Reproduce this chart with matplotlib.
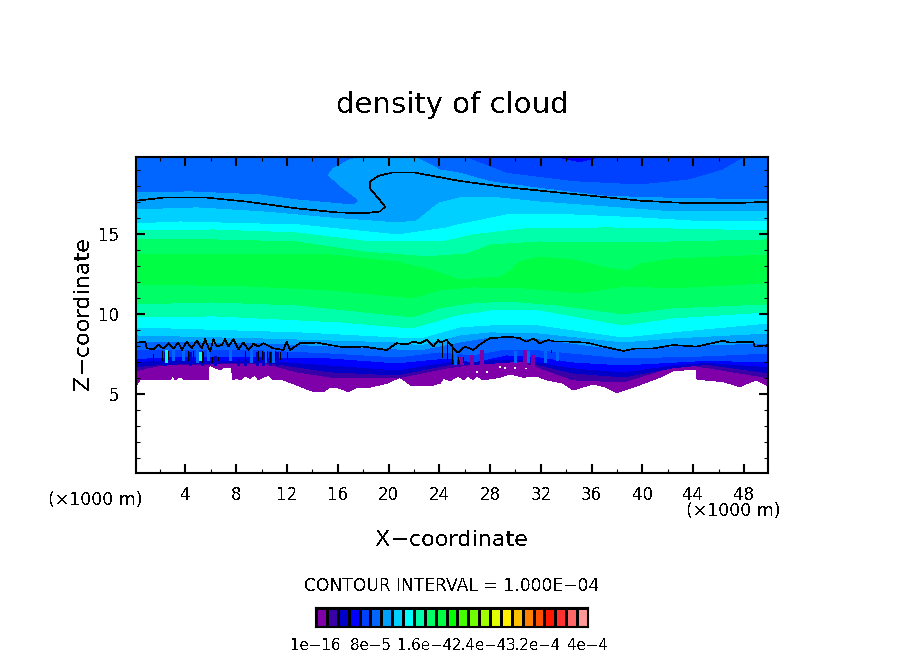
import matplotlib
matplotlib.use("Agg")
import matplotlib.pyplot as plt
from matplotlib.ticker import MultipleLocator

plt.rcParams['font.family'] = ['DejaVu Sans']
plt.rcParams['text.antialiased'] = False

W, H = 904, 654
XMIN, XMAX, ZMIN, ZMAX = 0.1, 49.9, 0.06, 19.81

TITLE = "density of cloud"
XLABEL = "X\u2212coordinate"
YLABEL = "Z\u2212coordinate"
INTERVAL = "CONTOUR INTERVAL = 1.000E\u221204"
UNIT = "(\u00d71000 m)"
XTICKS = list(range(4, 49, 4))
ZTICKS = [5, 10, 15]
CBAR_LABELS = ["1e\u221216", "8e\u22125", "1.6e\u22124", "2.4e\u22124", "3.2e\u22124", "4e\u22124"]

COLORS = ["#7f00a8", "#3a00a8", "#0000c8", "#0000ff", "#0040ff", "#0066ff", "#00a0ff", "#00d0ff",
          "#00ffff", "#00ffaa", "#00ff66", "#00ff44", "#00ff00", "#44ff00", "#70ff00", "#a0ff00",
          "#e0ff00", "#fff000", "#ffc000", "#ff8000", "#ff5000", "#ff1800", "#ff3030", "#ff6868", "#ff9898"]

# lower edge of each level (x in km, z in km)
L0_X = [0, 0.16, 0.42, 2.79, 3.0, 3.18, 3.57, 3.97, 5.81, 5.86, 6.72, 6.99, 7.64, 7.7, 8.04, 8.3, 8.69, 9.09, 9.48, 9.74,
        10.14, 10.53, 10.92, 11.71, 12.76, 14.07, 14.86, 15.39, 15.91, 16.83, 17.49, 18.54, 19.85, 20.9, 21.82, 23.26,
        24.05, 24.31, 24.84, 25.49, 25.89, 26.28, 26.67, 26.94, 27.46, 28.77, 29.56, 30.61, 31.66, 32.45, 33.76, 34.55,
        36.12, 37.17, 37.96, 39.27, 40.85, 41.5, 42.42, 44.26, 44.31, 46.36, 47.67, 48.98, 50]
L0_Z = [5.56, 5.56, 5.88, 5.88, 6.19, 5.88, 6.08, 5.88, 5.88, 6.81, 6.5, 6.65, 6.65, 5.88, 5.98, 5.88, 6.13, 5.98, 6.19, 5.88,
        6.04, 6.19, 5.88, 5.88, 5.56, 5.15, 5.15, 5.42, 5.42, 5.15, 5.42, 5.42, 5.67, 6.04, 5.5, 5.5,
        5.67, 5.98, 5.83, 6.13, 5.88, 6.13, 5.88, 6.13, 5.88, 6.04, 6.25, 6.04, 6.13, 5.88, 5.67, 5.25,
        5.63, 5.42, 5.08, 5.42, 5.88, 6.08, 6.46, 6.54, 5.92, 5.77, 5.46, 5.88, 5.46]
L1_X = [0, 1.0, 2.26, 10.14, 12.76, 15.39, 20.64, 24.6, 28, 30.6, 34.55, 38.49, 41.1, 42.4, 44.26, 50]
L1_Z = [6.4, 6.63, 6.81, 6.94, 6.38, 6.06, 6.0, 6.63, 7.0, 7.0, 5.88, 5.75, 6.38, 6.75, 6.75, 6.0]
L2_X = [0, 2.26, 10.14, 15.39, 20.64, 24.6, 26.67, 30.6, 34.55, 38.49, 42.4, 45.05, 50]
L2_Z = [6.7, 6.85, 7.0, 6.38, 6.19, 6.81, 6.85, 7.05, 6.31, 6.06, 6.63, 6.85, 6.31]
L3_X = [0, 2.26, 10.14, 15.39, 20.64, 24.6, 28, 30.6, 34.55, 38.49, 42.4, 45.05, 50]
L3_Z = [7.0, 7.13, 7.1, 6.81, 6.5, 7.0, 7.13, 7.17, 6.63, 6.38, 6.81, 6.98, 6.69]
L4_X = [0, 2.26, 10.14, 15.39, 20.64, 24.6, 26.67, 29.3, 31.92, 34.55, 38.49, 45.05, 50]
L4_Z = [7.2, 7.31, 7.31, 7.25, 6.94, 7.25, 7.0, 7.44, 7.31, 7.0, 6.81, 7.1, 7.0]
L5_X = [0, 10.1, 15.4, 20.7, 24, 26.6, 28.8, 31.9, 38.5, 45.1, 50]
L5_Z = [7.75, 7.75, 7.56, 7.31, 7.63, 7.44, 7.75, 7.75, 7.25, 7.38, 7.56]
L6_X = [0, 10, 15.4, 20.7, 22.5, 25.6, 28, 31.9, 38.5, 42.4, 50]
L6_Z = [8.31, 8.19, 8, 7.81, 7.75, 8.25, 8.56, 8.44, 7.75, 8, 8.19]
L7_X = [0, 10, 20.7, 22.5, 25.6, 28, 31.9, 38.5, 42.4, 50]
L7_Z = [8.69, 8.5, 8.25, 8.06, 8.69, 8.88, 8.81, 8.25, 8.5, 8.81]
L8_X = [0, 13, 20.7, 22.5, 25.6, 28, 31.9, 38.5, 42.4, 50]
L8_Z = [9.19, 8.88, 8.56, 8.5, 9.19, 9.31, 9.31, 8.56, 8.88, 9.44]
L9_X = [0, 6.2, 12.8, 16.2, 20.7, 21.9, 25.4, 28, 31.9, 38.5, 42.4, 50]
L9_Z = [9.81, 9.88, 9.63, 9.5, 9.19, 9.13, 9.94, 10.25, 10.25, 9.31, 9.75, 10.13]
L10_X = [0, 6.2, 12.8, 18, 21.9, 24, 25.4, 26.6, 29.3, 33.3, 38.5, 42.4, 50]
L10_Z = [10.63, 10.75, 10.56, 10.13, 9.81, 10.38, 10.56, 10.69, 10.81, 10.56, 10.0, 10.38, 10.63]
L11_X = [0, 8.9, 15.4, 21.9, 24, 26.6, 30.6, 35.1, 38.8, 42.4, 50]
L11_Z = [11.88, 11.75, 11.5, 11, 11.5, 11.69, 11.63, 11.31, 11.75, 11.63, 11.94]

# upper edge of each level
U0_X = [0, 50]
U0_Z = [ZMAX, ZMAX]
U4_X = [0, 32.9, 35.1, 36.9, 50]
U4_Z = [ZMAX, ZMAX, 19.44, ZMAX, ZMAX]
U5_X = [0, 26.02, 29.3, 34.55, 39.8, 43.73, 46.36, 48.07, 50]
U5_Z = [ZMAX, 19.79, 18.79, 18.27, 18.06, 18.38, 19.0, 19.79, ZMAX]
U6_X = [0, 4.36, 9.87, 12.76, 17.22, 17.67, 17.49, 16.44, 15.25, 15.65, 16.96, 17.75, 22.08, 24.05, 25.62, 28, 31.92, 37.17, 42.42, 50]
U6_Z = [17.56, 17.63, 17.44, 17.13, 16.81, 17.02, 17.23, 17.85, 18.69, 19.1, 19.63, ZMAX, ZMAX, 19.0, 18.8, 18.27, 17.85, 17.35, 17.23, 17.13]
U7_X = [0, 4.9, 10.1, 15.4, 20.7, 22.2, 23.3, 24, 25.6, 28, 31.9, 37.2, 42.4, 50]
U7_Z = [16.5, 16.63, 16.38, 16, 15.69, 15.81, 16.5, 16.94, 17.25, 17.31, 17, 16.69, 16.38, 16.38]
U8_X = [0, 3.6, 13, 20.7, 24.6, 25.4, 26.6, 29.3, 34.5, 39.9, 45.1, 50]
U8_Z = [15.63, 15.75, 15.56, 14.94, 15.38, 15.56, 15.75, 16.19, 16.19, 16, 15.75, 15.75]
U9_X = [0, 6.2, 12.8, 18, 21.9, 24, 25.4, 26.6, 30.6, 37.2, 42.4, 50]
U9_Z = [15.19, 15.25, 15.06, 14.56, 14.5, 14.5, 14.69, 14.94, 15.31, 15.38, 15.31, 15.19]
U10_X = [0, 6.2, 12.8, 18, 23.3, 24, 26.2, 28, 31.9, 37.2, 42.4, 50]
U10_Z = [14.63, 14.63, 14.5, 13.88, 13.56, 13.63, 13.75, 14.31, 14.5, 14.44, 14.5, 14.63]
U11_X = [0, 10.1, 15.4, 20.7, 23.3, 25.6, 28.8, 29.7, 30.3, 31.9, 34.5, 37.2, 38.8, 39.9, 42.4, 50]
U11_Z = [13.69, 13.69, 13.69, 13.25, 12.75, 12.13, 12.31, 12.75, 13.25, 13.56, 13.38, 12.88, 12.69, 13.13, 13.44, 13.69]

# the 1.000E-04 contour
CONTOUR_LOW_X = [0, 0.16, 0.82, 0.95, 1.47, 1.87, 2.26, 2.66, 3.05, 3.44, 3.71, 4.1, 4.49, 4.89, 5.28, 5.54, 5.94, 6.2, 6.46, 6.86,
                 7.12, 7.38, 7.77, 8.17, 8.56, 8.96, 9.35, 9.74, 10.14, 10.92, 11.71, 11.97, 12.24, 13.02, 14.34, 15.39, 16.44,
                 18.01, 19.85, 20.64, 21.42, 21.95, 22.47, 23.0, 23.52, 23.92, 24.05, 24.57, 25.23, 25.49, 26.02, 26.67, 27.33,
                 27.99, 29.56, 30.35, 30.87, 31.4, 31.92, 32.58, 33.1, 34.15, 35.6, 36.91, 38.49, 39.54, 40.85, 42.42, 44.26,
                 46.36, 46.88, 48.72, 48.85, 50]
CONTOUR_LOW_Z = [8.21, 8.21, 8.27, 7.85, 7.79, 8.06, 7.85, 8.17, 7.85, 8.21, 7.75, 8.27, 7.85, 8.33, 7.85, 8.42, 7.65, 8.42, 7.96, 8.06,
                 8.42, 7.96, 8.42, 7.79, 8.21, 7.75, 8.13, 7.96, 8.17, 7.85, 7.75, 8.27, 7.75, 8.17, 8.21, 8.06, 7.92,
                 7.96, 7.75, 8.17, 8.1, 8.27, 8.17, 8.38, 7.96, 8.38, 8.21, 8.38, 7.75, 7.58, 7.96, 7.75, 8.17,
                 8.48, 8.58, 8.48, 8.27, 8.48, 8.17, 8.38, 8.27, 8.27, 8.21, 7.96, 7.69, 7.85, 7.85, 8.06, 7.96,
                 8.33, 8.21, 8.27, 7.96, 8.06]
CONTOUR_UP_X = [0, 0.16, 2.26, 5.67, 8.82, 12.76, 15.91, 18.01, 19.32, 19.72, 19.19, 18.54, 18.54, 19.19, 20.37, 21.95, 25.62,
                29.3, 34.55, 39.8, 43.73, 47.15, 50]
CONTOUR_UP_Z = [17.08, 17.08, 17.27, 17.27, 17.02, 16.6, 16.35, 16.29, 16.4, 16.71, 17.23, 17.85, 18.27, 18.63, 18.85, 18.85, 18.31,
                17.92, 17.5, 17.08, 16.92, 16.92, 17.02]

# narrow structures in the unstable layer
SPIKE_LIGHT_X = [3.05, 3.84, 4.89, 5.8, 7.5, 9.2, 10.27, 10.92, 25.2, 30.0, 31.0, 32.3, 33.3]
SPIKE_LIGHT_TOP = [7.8, 7.8, 7.8, 7.8, 7.8, 7.8, 7.7, 7.7, 7.6, 7.7, 7.7, 7.7, 7.7]
SPIKE_LIGHT_BOT = [7.1, 7.1, 7.0, 7.1, 7.1, 7.0, 7.0, 7.0, 6.9, 7.0, 7.0, 7.0, 7.1]
SPIKE_PURPLE_X = [25.76, 26.54, 27.33, 30.74, 31.4]
SPIKE_PURPLE_TOP = [7.33, 7.44, 7.75, 7.75, 7.44]
SPIKE_PURPLE_BOT = [6.8, 6.8, 6.8, 6.6, 6.5]
SPIKE_DARK_X = [2.39, 4.36, 5.28, 6.33, 8.17, 8.69, 9.61, 10.14, 10.66, 11.19]
SPIKE_DARK_TOP = [7.65, 7.65, 7.6, 7.4, 7.2, 7.2, 7.6, 7.65, 7.65, 7.6]
SPIKE_DARK_BOT = [6.8, 6.8, 6.8, 6.8, 6.8, 6.8, 6.8, 6.8, 6.8, 6.8]
SPIKE_CYAN_X = [2.47, 5.15]
SPIKE_CYAN_TOP = [7.75, 7.6]
SPIKE_CYAN_BOT = [7.0, 7.1]
LOOP_X = [1.47, 2.13, 2.6, 4.23, 4.6, 5.28, 5.4, 6.08, 6.6, 8.69, 9.74, 10.0, 10.4, 10.66, 11.05, 11.45, 11.97,
          24.18, 24.57, 24.97, 25.49, 25.9, 32.84]
LOOP_TOP = [7.5, 7.7, 7.7, 7.7, 7.7, 7.7, 7.6, 7.3, 7.3, 7.7, 7.7, 7.7, 7.7, 7.6, 7.7, 7.6, 7.6,
            8.2, 8.4, 8.1, 7.3, 7.3, 7.75]
LOOP_BOT = [7.0, 7.1, 7.2, 7.1, 7.2, 7.0, 7.1, 7.0, 7.1, 7.1, 7.1, 7.2, 7.1, 7.0, 7.1, 7.2, 7.2,
            7.3, 7.2, 6.95, 6.95, 7.0, 7.65]
SPECK_X = [26.94, 27.72, 28.77, 29.17, 29.96, 30.82]
SPECK_Z = [6.4, 6.4, 6.71, 6.6, 6.6, 6.6]

LEVELS = [
    (L0_X, L0_Z, U0_X, U0_Z), (L1_X, L1_Z, U0_X, U0_Z), (L2_X, L2_Z, U0_X, U0_Z), (L3_X, L3_Z, U0_X, U0_Z),
    (L4_X, L4_Z, U4_X, U4_Z), (L5_X, L5_Z, U5_X, U5_Z), (L6_X, L6_Z, U6_X, U6_Z), (L7_X, L7_Z, U7_X, U7_Z),
    (L8_X, L8_Z, U8_X, U8_Z), (L9_X, L9_Z, U9_X, U9_Z), (L10_X, L10_Z, U10_X, U10_Z), (L11_X, L11_Z, U11_X, U11_Z),
]

fig = plt.figure(figsize=(W / 100, H / 100), dpi=100, facecolor="white")
ax = fig.add_axes([136 / W, (H - 473) / H, (768 - 136) / W, (473 - 157) / H])

for color, (lx, lz, ux, uz) in zip(COLORS, LEVELS):
    ax.fill(lx + ux[::-1], lz + uz[::-1], color=color, lw=0, antialiased=False)

ax.vlines(SPIKE_LIGHT_X, SPIKE_LIGHT_BOT, SPIKE_LIGHT_TOP, color=COLORS[5], lw=0.8, antialiased=False)
ax.vlines(SPIKE_DARK_X, SPIKE_DARK_BOT, SPIKE_DARK_TOP, color=COLORS[2], lw=0.8, antialiased=False)
ax.vlines(SPIKE_PURPLE_X, SPIKE_PURPLE_BOT, SPIKE_PURPLE_TOP, color=COLORS[0], lw=1.5, antialiased=False)
ax.vlines(SPIKE_CYAN_X, SPIKE_CYAN_BOT, SPIKE_CYAN_TOP, color=COLORS[8], lw=0.8, antialiased=False)
ax.vlines(LOOP_X, LOOP_BOT, LOOP_TOP, color="black", lw=0.7, antialiased=False)
ax.scatter(SPECK_X, SPECK_Z, s=4, marker="s", color="white", linewidths=0, antialiased=False)

ax.plot(CONTOUR_LOW_X, CONTOUR_LOW_Z, color="black", lw=0.45, antialiased=False)
ax.plot(CONTOUR_UP_X, CONTOUR_UP_Z, color="black", lw=0.45, antialiased=False)

ax.set_xlim(XMIN, XMAX)
ax.set_ylim(ZMIN, ZMAX)
ax.set_xticks(XTICKS)
ax.set_yticks(ZTICKS)
ax.xaxis.set_minor_locator(MultipleLocator(2))
ax.yaxis.set_minor_locator(MultipleLocator(1))
ax.tick_params(which="major", direction="in", top=True, right=True, length=6.5, width=1.5, labelsize=12, pad=9)
ax.tick_params(which="minor", direction="in", top=True, right=True, length=3, width=0.8)
ax.tick_params(axis="y", which="major", pad=12)
for spine in ax.spines.values():
    spine.set_linewidth(1.5)


def label(px, py, text, **kw):
    fig.text(px / W, 1 - py / H, text, ha="center", va="center", **kw)


label(452, 105, TITLE, fontsize=21)
label(452, 540, XLABEL, fontsize=16)
label(83, 314, YLABEL, fontsize=16, rotation=90)
label(95.5, 500, UNIT, fontsize=12.5)
label(733, 511, UNIT, fontsize=12.5)
label(452, 586, INTERVAL, fontsize=12.3)

cax = fig.add_axes([316 / W, (H - 627) / H, (588 - 316) / W, 19 / H])
for i, c in enumerate(COLORS):
    cax.bar(i + 0.5, 1, width=1, color=c, edgecolor="black", linewidth=1.0, antialiased=False)
cax.set_xlim(0, len(COLORS))
cax.set_ylim(0, 1)
cax.set_yticks([])
cax.set_xticks([0, 5, 10, 15, 20, 25])
cax.set_xticklabels(CBAR_LABELS, fontsize=10.8)
cax.tick_params(axis="x", length=0, pad=8)
for spine in cax.spines.values():
    spine.set_linewidth(1.5)

fig.savefig("out.png", dpi=100)
